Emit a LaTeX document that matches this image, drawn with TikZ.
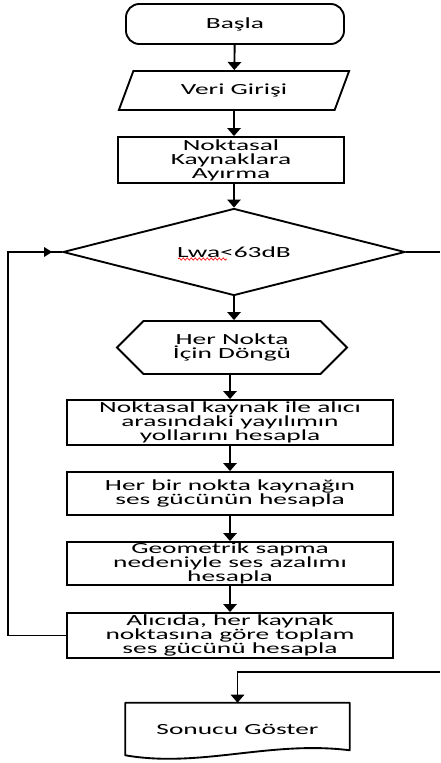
\documentclass[tikz,border=0pt]{standalone}
\usepackage{fontspec}
\setmainfont[FakeStretch=1.77]{Carlito}
\usetikzlibrary{shapes, shapes.geometric, shapes.symbols, arrows.meta, positioning, calc, decorations.pathmorphing}

\begin{document}
\begin{tikzpicture}[
        x=0.75pt, y=-0.75pt,
        txt/.style={font=\fontsize{11.6pt}{10.5pt}\selectfont, align=center, inner sep=0pt},
        terminal/.style={txt, rectangle, draw=black, line width=1.4pt, rounded corners=10pt, minimum width=163.5pt, minimum height=30pt},
        inputbox/.style={txt, trapezium, trapezium left angle=60, trapezium right angle=120, trapezium stretches=true, draw=black, line width=1.4pt, minimum width=174pt, minimum height=29.25pt},
        procbox/.style={txt, rectangle, draw=black, line width=1.4pt, minimum width=244.5pt},
        decision/.style={txt, diamond, draw=black, line width=1.4pt, aspect=3.9, minimum width=256.5pt, minimum height=65.25pt},
        loopbox/.style={txt, signal, signal to=west and east, signal pointer angle=90, draw=black, line width=1.4pt, minimum width=172.5pt, minimum height=39.75pt},
        docbox/.style={txt, rectangle, minimum width=168pt, minimum height=39pt},
        arrow/.style={-{Triangle[width=10pt,length=6pt]}, line width=1.4pt, draw=black},
        loopline/.style={line width=1pt, draw=black},
        spell/.style={red, line width=0.5pt, decorate, decoration={snake, amplitude=0.8pt, segment length=3pt}}
    ]
        \useasboundingbox (0,0) rectangle (440,763);

        \node[terminal] (start) at (235,24) {Başla};
        \node[inputbox] (input) at (234,90.5) {Veri Girişi};
        \node[procbox, minimum width=169.5pt, minimum height=34.5pt] (split) at (231,160) {Noktasal\\Kaynaklara\\Ayırma};
        \node[decision] (check) at (234,252) {Lwa<63dB};
        \node[loopbox] (loop) at (232,347.5) {Her Nokta\\İçin Döngü};
        \node[procbox, minimum height=33.75pt] (paths) at (230,422.5) {Noktasal kaynak ile alıcı\\arasındaki yayılımın\\yollarını hesapla};
        \node[procbox, minimum height=32.25pt] (power) at (230,493.5) {Her bir nokta kaynağın\\ses gücünün hesapla};
        \node[procbox, minimum height=32.25pt] (atten) at (230,563.5) {Geometrik sapma\\nedeniyle ses azalımı\\hesapla};
        \node[procbox, minimum height=33.75pt] (total) at (230,635.5) {Alıcıda, her kaynak\\noktasına göre toplam\\ses gücünü hesapla};
        \node[docbox] (show) at (237.5,729) {Sonucu Göster};
        \coordinate (rtop) at (440,252);
        \coordinate (rbot) at (440,672);

        % document outline with wavy bottom
        \draw[line width=1.4pt, line join=round] (show.north west) -- (show.north east) -- ($(show.south east)+(0,-5)$)
            .. controls ($(show.south east)+(-80,-15)$) and ($(show.south west)+(75,13)$) .. (show.south west) -- cycle;

        % spell check mark
        \draw[spell] ($(check.center)+(-56,7)$) -- ($(check.center)+(-7,7)$);

        \draw[arrow] (start) -- (input);
        \draw[arrow] (input) -- (input |- split.north);
        \draw[arrow] (split.south -| check.north) -- (check);
        \draw[arrow] (check.south) -- (check.south |- loop.north);
        \draw[arrow] (loop.south -| paths.north) -- (paths);
        \draw[arrow] (paths) -- (power);
        \draw[arrow] (power) -- (atten);
        \draw[arrow] (atten) -- (total);
        \draw[loopline] (total.west) -- ++(-58,0) |- (check.west);
        \fill ($(check.west)+(-10,0)$) -- ++(-8,-5) -- ++(0,10) -- cycle;
        \draw[loopline] (check.east) -- (rtop);
        \draw[loopline] (rbot) -| (show.north);
        \draw[arrow] ($(rbot -| show.north)+(0,5)$) -- (show.north);
    \end{tikzpicture}
\end{document}
